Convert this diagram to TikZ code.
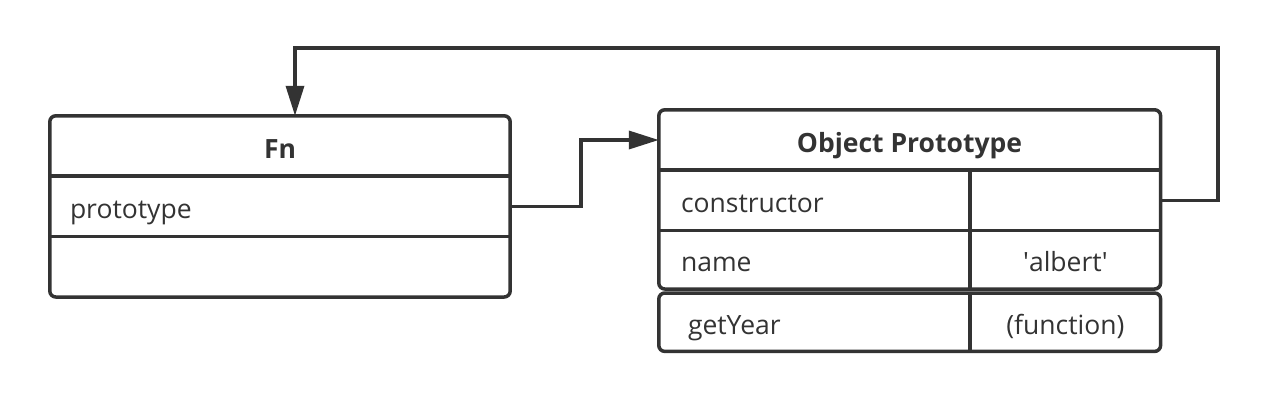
\documentclass[tikz,border=0pt]{standalone}
\usepackage{fontspec}
\setmainfont{Open Sans}
\usetikzlibrary{arrows.meta,positioning,fit}
\definecolor{ink}{HTML}{333333}

\begin{document}
\begin{tikzpicture}[
      x=1pt, y=-1pt,
      node distance = 0pt,
      cell/.style   = {inner sep=0pt, minimum height=60pt, text=ink,
                       text height=24pt, text depth=0pt,
                       font=\fontsize{26.5}{30}\selectfont},
      head/.style   = {cell, minimum width=#1, font=\fontsize{26.5}{30}\selectfont\bfseries},
      key/.style    = {cell, align=left, inner xsep=22pt, text width=#1},
      val/.style    = {cell, minimum width=190pt},
      frame/.style  = {draw=ink, line width=3.5pt, rounded corners=6pt, inner sep=0pt},
      sep/.style    = {draw=ink, line width=3.5pt},
      arr/.style    = {-{Triangle[length=30pt, width=18pt]}, draw=ink, line width=3.5pt},
    ]
    \useasboundingbox (0,0) rectangle (1270,400);

    % ---- Fn box ----
    \node[head=460pt] (fnhead) at (280,146) {Fn};
    \node[key=420pt, inner xsep=20pt, below=of fnhead] (fnproto) {prototype};
    \node[cell, minimum width=460pt, below=of fnproto] (fnrest) {};
    \node[frame, fit=(fnhead)(fnrest)] (fnbox) {};
    \draw[sep] (fnhead.south west) -- (fnhead.south east);
    \draw[sep] (fnproto.south west) -- (fnproto.south east);

    % ---- Object Prototype box ----
    \node[head=501pt] (objhead) at (909.5,140) {Object Prototype};
    \node[key=267pt, anchor=north west] (ctorkey) at (objhead.south west) {constructor};
    \node[val, right=of ctorkey] (ctorval) {};
    \node[key=267pt, minimum height=58pt, below=of ctorkey] (namekey) {name};
    \node[val, minimum height=58pt, right=of namekey] (nameval) {\textquotesingle albert\textquotesingle};
    \node[key=253pt, inner xsep=29pt, minimum height=58pt, below=4pt of namekey] (yearkey) {getYear};
    \node[val, minimum height=58pt, right=of yearkey] (yearval) {(function)};

    \node[frame, fit=(objhead)(nameval)] (objbox) {};
    \node[frame, fit=(yearkey)(yearval)] (yearbox) {};
    \draw[sep] (objhead.south west) -- (objhead.south east);
    \draw[sep] (ctorkey.south west) -- (ctorval.south east);
    \draw[sep] (ctorkey.north east) -- (namekey.south east);
    \draw[sep] (yearkey.north east) -- (yearkey.south east);

    % ---- connectors ----
    \draw[arr] (fnproto.east) -- ++(71,0) |- (objhead.west);
    \coordinate (loop) at (1218,48);
    \draw[arr] (ctorval.east) -| (loop) -| ([xshift=15pt]fnhead.north);
  \end{tikzpicture}
\end{document}
